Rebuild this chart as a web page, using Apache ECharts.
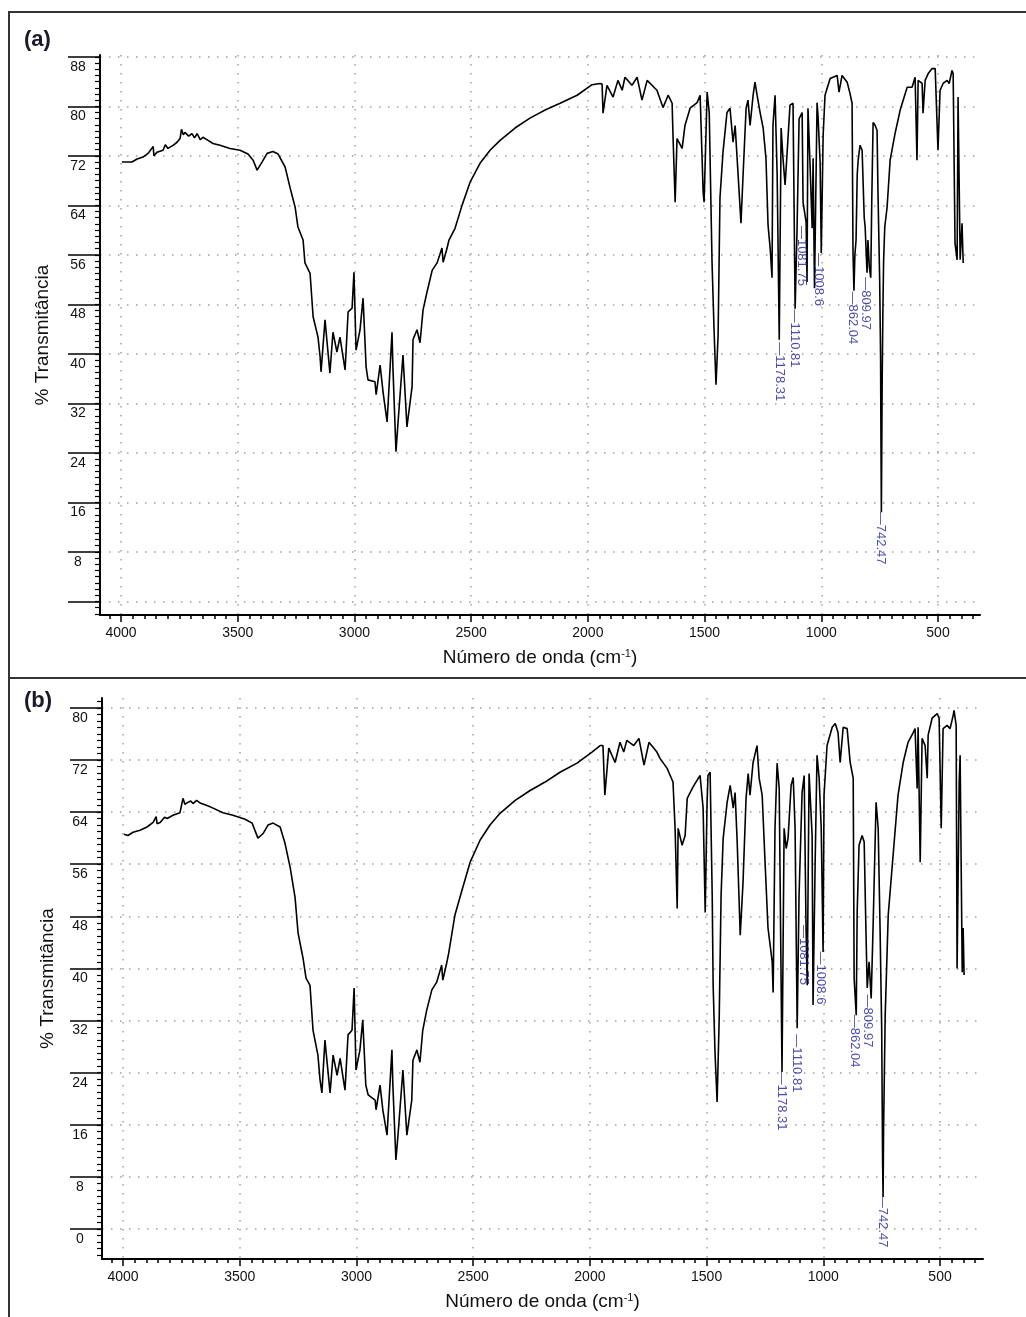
<!DOCTYPE html>
<html>
<head>
<meta charset="utf-8">
<script src="https://cdn.jsdelivr.net/npm/echarts@6/dist/echarts.min.js"></script>
<style>
html,body{margin:0;padding:0;background:#fff;}
#chart{width:1026px;height:1317px;}
</style>
</head>
<body>
<div id="chart"></div>
<script>
// ---------------- DATA ----------------
// Panel (a) spectrum: [wavenumber cm-1, %T]
const SPECTRUM_A = [
[3996,71.0],[3953,71.0],[3931,71.5],[3906,71.8],[3884,72.4],[3862,73.5],[3859,72.0],[3846,72.6],[3820,72.9],[3810,73.8],[3799,73.2],[3777,73.7],[3760,74.2],[3747,74.8],[3741,76.3],[3733,75.4],[3726,75.8],[3710,75.2],[3696,75.6],[3685,74.9],[3674,75.6],[3660,74.6],[3649,75.0],[3627,74.5],[3606,74.0],[3576,73.7],[3533,73.2],[3490,72.9],[3456,72.3],[3434,71.3],[3417,69.7],[3396,71.0],[3374,72.4],[3349,72.7],[3327,72.3],[3297,70.2],[3276,66.9],[3254,63.7],[3242,60.5],[3220,58.4],[3212,54.7],[3190,53.0],[3177,46.0],[3156,42.7],[3147,39.5],[3143,37.1],[3126,45.5],[3105,36.9],[3092,43.5],[3075,40.3],[3062,42.7],[3040,37.4],[3027,46.8],[3010,47.4],[3002,53.2],[2993,40.6],[2976,43.9],[2963,49.0],[2950,37.9],[2942,35.8],[2912,35.5],[2907,33.4],[2890,38.2],[2877,33.7],[2860,29.0],[2839,43.5],[2835,37.7],[2822,24.2],[2813,29.0],[2792,39.8],[2775,28.2],[2753,34.7],[2749,42.3],[2732,43.9],[2719,41.8],[2706,47.1],[2689,50.0],[2667,53.5],[2646,54.7],[2625,57.1],[2620,54.8],[2603,57.1],[2595,58.4],[2569,60.3],[2539,64.0],[2505,67.7],[2462,70.8],[2419,72.9],[2376,74.5],[2312,76.5],[2248,78.1],[2183,79.4],[2119,80.5],[2046,81.8],[1982,83.5],[1948,83.7],[1939,83.6],[1935,78.9],[1918,83.4],[1892,81.5],[1871,84.2],[1853,82.6],[1841,84.7],[1811,83.4],[1789,84.7],[1768,81.0],[1746,84.2],[1704,82.6],[1678,79.8],[1656,81.8],[1639,80.5],[1635,75.0],[1626,64.5],[1618,74.8],[1596,73.2],[1584,76.9],[1562,79.7],[1532,80.6],[1519,81.8],[1506,66.1],[1502,64.5],[1489,82.3],[1480,79.0],[1468,54.8],[1459,43.5],[1451,35.0],[1442,43.0],[1434,65.2],[1421,72.6],[1404,79.0],[1391,79.7],[1378,74.2],[1369,76.9],[1357,69.4],[1344,61.1],[1335,68.9],[1322,79.7],[1314,81.0],[1305,76.9],[1292,81.8],[1284,83.9],[1275,81.8],[1262,79.0],[1249,76.5],[1237,71.6],[1228,60.8],[1219,57.1],[1211,52.3],[1207,76.9],[1198,81.8],[1189,68.9],[1180,42.3],[1172,76.5],[1164,71.6],[1155,67.3],[1147,72.1],[1134,80.2],[1121,80.5],[1112,47.3],[1104,59.7],[1095,78.0],[1082,79.0],[1078,64.5],[1065,61.3],[1061,51.6],[1057,79.7],[1048,70.5],[1039,60.3],[1035,71.6],[1029,50.6],[1018,80.6],[1014,78.5],[1005,71.0],[1000,56.3],[992,75.3],[984,81.8],[962,84.5],[932,85.0],[924,82.3],[911,85.0],[889,83.9],[877,82.1],[868,80.5],[864,56.3],[860,50.2],[856,56.0],[851,58.4],[846,69.0],[842,71.3],[834,73.7],[825,72.9],[816,62.0],[812,60.5],[804,53.1],[800,58.4],[794,54.0],[788,52.3],[784,64.0],[778,77.4],[770,77.0],[761,76.1],[757,66.0],[750,52.4],[746,40.0],[744,24.0],[742.5,14.4],[741,24.0],[739,36.0],[736,47.0],[733,55.0],[728,60.5],[718,63.7],[705,71.3],[684,75.6],[662,79.4],[632,83.1],[611,83.1],[598,84.7],[590,71.3],[585,84.2],[568,83.7],[564,78.9],[555,84.2],[542,85.3],[525,86.1],[512,86.1],[504,85.8],[500,72.9],[491,82.6],[478,83.7],[461,84.2],[452,83.7],[440,85.8],[435,85.3],[427,57.9],[418,55.2],[414,81.5],[405,55.2],[397,61.1],[392,54.7]
];

// Panel (b) spectrum: [wavenumber cm-1, %T]
const SPECTRUM_B = [
[3996,60.6],[3979,60.4],[3957,60.9],[3927,61.2],[3897,61.7],[3871,62.4],[3858,63.3],[3854,62.2],[3841,62.4],[3822,63.2],[3811,63.0],[3786,63.5],[3756,63.9],[3743,66.1],[3735,65.2],[3726,65.4],[3710,65.7],[3700,65.3],[3685,65.8],[3670,65.4],[3655,65.2],[3640,65.0],[3614,64.6],[3572,63.9],[3529,63.5],[3477,62.9],[3447,62.3],[3422,60.0],[3400,60.7],[3379,62.0],[3357,62.3],[3327,61.7],[3306,59.2],[3284,55.5],[3263,50.9],[3250,45.4],[3229,41.6],[3216,38.5],[3199,37.4],[3186,30.5],[3165,26.7],[3156,22.9],[3148,20.9],[3135,29.0],[3113,20.9],[3100,26.7],[3083,23.6],[3070,26.2],[3049,21.3],[3036,29.8],[3019,30.5],[3010,37.0],[3002,24.4],[2985,27.5],[2973,32.1],[2960,22.1],[2950,20.6],[2920,19.8],[2916,18.3],[2899,22.1],[2887,18.3],[2869,14.4],[2848,27.5],[2844,22.1],[2831,10.6],[2822,14.4],[2801,24.4],[2784,14.4],[2763,19.8],[2758,25.9],[2741,27.5],[2728,25.6],[2716,30.5],[2699,33.6],[2677,36.7],[2656,37.9],[2635,40.5],[2630,38.2],[2613,40.9],[2605,42.3],[2578,48.2],[2548,52.0],[2513,56.3],[2470,59.7],[2428,62.0],[2385,63.8],[2320,65.8],[2256,67.3],[2192,68.6],[2128,70.1],[2055,71.5],[1991,73.2],[1956,74.2],[1944,74.2],[1936,66.6],[1919,73.8],[1892,71.6],[1871,74.7],[1855,73.2],[1842,75.0],[1812,74.2],[1790,75.3],[1768,71.2],[1747,74.7],[1713,73.2],[1699,72.2],[1669,70.7],[1656,69.6],[1644,68.6],[1635,61.5],[1626,49.2],[1622,61.5],[1605,58.9],[1592,60.4],[1583,66.1],[1562,67.6],[1549,68.4],[1528,69.6],[1515,64.6],[1506,48.6],[1498,65.5],[1494,69.6],[1485,70.1],[1476,51.2],[1472,37.4],[1464,27.1],[1455,19.5],[1446,32.4],[1438,51.2],[1429,60.0],[1412,65.5],[1399,68.1],[1386,64.6],[1378,67.0],[1369,59.4],[1356,45.1],[1344,53.2],[1331,66.1],[1322,69.9],[1314,66.6],[1301,71.6],[1284,74.2],[1275,69.2],[1262,66.6],[1249,55.8],[1237,46.2],[1219,41.0],[1215,36.3],[1207,61.5],[1198,71.5],[1189,67.6],[1177,24.1],[1168,61.5],[1159,58.4],[1151,60.0],[1138,68.1],[1129,69.3],[1121,61.5],[1112,30.8],[1104,51.2],[1091,67.0],[1082,69.6],[1074,46.2],[1069,37.4],[1061,69.9],[1048,60.4],[1044,34.4],[1035,56.3],[1027,72.7],[1018,69.2],[1009,61.5],[1001,42.5],[997,66.6],[984,74.2],[962,77.0],[949,77.6],[937,76.2],[928,71.6],[915,77.0],[898,76.8],[885,71.6],[872,69.2],[868,38.5],[859,32.8],[855,48.6],[847,58.9],[834,60.4],[825,59.4],[817,45.1],[812,37.0],[804,41.0],[795,35.4],[787,46.2],[774,65.5],[765,61.5],[757,46.2],[750,30.8],[746,10.0],[744,4.9],[742,15.0],[735,32.8],[722,48.2],[701,57.4],[680,66.6],[658,71.6],[637,74.7],[615,76.2],[607,76.8],[598,67.6],[594,77.0],[585,56.3],[577,75.3],[564,74.2],[555,69.2],[551,75.8],[534,78.4],[512,79.1],[504,78.4],[495,61.5],[487,76.8],[470,77.3],[457,76.8],[444,78.8],[440,79.6],[431,77.3],[427,40.0],[418,68.6],[414,72.7],[405,39.4],[401,46.2],[397,39.0]
];

// Annotated peaks
const PEAK_LABELS = ['1178.31','1110.81','1081.75','1008.6','862.04','809.97','742.47'];
const PEAK_WN     = [1178.31, 1110.81, 1081.75, 1008.6, 862.04, 809.97, 742.47];
const PEAK_T_A    = [41.8, 47.1, 60.6, 56.2, 50.0, 52.3, 14.4];
const PEAK_T_B    = [24.1, 29.8, 46.6, 42.5, 32.8, 35.9, 5.2];

// Tick labels
const X_TICKS   = [500,1000,1500,2000,2500,3000,3500,4000];
const Y_TICKS_A = [0,8,16,24,32,40,48,56,64,72,80,88];
const Y_LABELS_A= [8,16,24,32,40,48,56,64,72,80,88];
const Y_TICKS_B = [0,8,16,24,32,40,48,56,64,72,80];
const Y_LABELS_B= [0,8,16,24,32,40,48,56,64,72,80];

// minor tick positions
const X_MINOR = []; for (let v = 350; v <= 4050; v += 50) X_MINOR.push(v);
const Y_MINOR_A = []; for (let v = -2; v <= 88; v += 1) Y_MINOR_A.push(v);
const Y_MINOR_B = []; for (let v = -4; v <= 81; v += 1) Y_MINOR_B.push(v);

// ---------------- STYLE ----------------
const FONT_N = "'Liberation Sans Narrow','Arial Narrow','Liberation Sans',Arial,sans-serif";
const FONT = "'Liberation Sans',Arial,sans-serif";
const DOT = {type:[1.5,7.5], color:'#a0a0a0', width:1.5};
const LABEL_BLUE = '#1c1c9a';
const plain = v => String(v);

function xPair(grid, min, max) {
  return [
    { gridIndex:grid, type:'value', inverse:true, min:min, max:max, position:'bottom',
      axisLine:{show:true, onZero:false, lineStyle:{color:'#000', width:2}},
      axisTick:{show:true, customValues:X_TICKS, length:7, lineStyle:{color:'#000', width:1.5}},
      axisLabel:{customValues:X_TICKS, formatter:plain, margin:11, fontFamily:FONT_N, fontSize:14, color:'#111'},
      splitLine:{show:true, lineStyle:DOT},
      name:'Número de onda (cm{sup|-1})', nameLocation:'middle', nameGap:33,
      nameTextStyle:{fontFamily:FONT, fontSize:19, color:'#111',
        rich:{sup:{fontFamily:FONT, fontSize:11, verticalAlign:'top', color:'#111'}}}
    },
    { gridIndex:grid, type:'value', inverse:true, min:min, max:max, position:'bottom',
      axisLine:{show:false, onZero:false},
      axisTick:{show:true, customValues:X_MINOR, length:4, lineStyle:{color:'#000', width:1.5}},
      axisLabel:{show:false}, splitLine:{show:false}
    }
  ];
}
function yPair(grid, min, max, ticks, labels, minor, gap) {
  return [
    { gridIndex:grid, type:'value', min:min, max:max, position:'left',
      axisLine:{show:true, onZero:false, lineStyle:{color:'#000', width:2}},
      axisTick:{show:true, customValues:ticks, length:32, lineStyle:{color:'#000', width:1.5}},
      axisLabel:{customValues:labels, formatter:plain, align:'center', verticalAlign:'top', margin:22, padding:[3,0,0,0],
        fontFamily:FONT_N, fontSize:14, color:'#111'},
      splitLine:{show:true, lineStyle:DOT},
      name:'% Transmitância', nameLocation:'middle', nameGap:gap,
      nameTextStyle:{fontFamily:FONT, fontSize:19, color:'#111'}
    },
    { gridIndex:grid, type:'value', min:min, max:max, position:'left',
      axisLine:{show:false, onZero:false},
      axisTick:{show:true, customValues:minor, length:5, lineStyle:{color:'#000', width:1.2}},
      axisLabel:{show:false}, splitLine:{show:false}
    }
  ];
}
function peakSeries(xi, yi, tvals) {
  return {
    type:'scatter', xAxisIndex:xi, yAxisIndex:yi, symbolSize:1, silent:true, z:5,
    itemStyle:{color:'rgba(0,0,0,0)'},
    data: PEAK_LABELS.map((t,i)=>({name:t, value:[PEAK_WN[i], tvals[i]]})),
    label:{show:true, formatter:p=>'\u2014'+p.name, position:[0,0], rotate:-90,
      align:'left', verticalAlign:'middle', fontFamily:FONT_N, fontSize:13, color:LABEL_BLUE}
  };
}

const chart = echarts.init(document.getElementById('chart'), null, {renderer:'canvas'});
chart.setOption({
  backgroundColor:'#fff',
  animation:false,
  grid:[
    {left:100, top:55, width:880, height:560},
    {left:102, top:698, width:881, height:561}
  ],
  xAxis: xPair(0, 320, 4090).concat(xPair(1, 316, 4090)),
  yAxis: yPair(0, -2.2, 88.3, Y_TICKS_A, Y_LABELS_A, Y_MINOR_A, 48)
          .concat(yPair(1, -4.6, 81.5, Y_TICKS_B, Y_LABELS_B, Y_MINOR_B, 45)),
  series:[
    {type:'line', xAxisIndex:0, yAxisIndex:0, data:SPECTRUM_A, showSymbol:false, symbol:'none',
     lineStyle:{color:'#000', width:1.6}},
    peakSeries(0, 0, PEAK_T_A),
    {type:'line', xAxisIndex:2, yAxisIndex:2, data:SPECTRUM_B, showSymbol:false, symbol:'none',
     lineStyle:{color:'#000', width:1.6}},
    peakSeries(2, 2, PEAK_T_B)
  ],
  graphic:[
    {type:'rect', shape:{x:9, y:12, width:1030, height:1320}, style:{fill:'none', stroke:'#333', lineWidth:2}, silent:true},
    {type:'line', shape:{x1:9, y1:678, x2:1030, y2:678}, style:{stroke:'#333', lineWidth:2}, silent:true},
    {type:'text', left:24, top:29, style:{text:'(a)', font:"bold 22px 'Liberation Sans', Arial, sans-serif", fill:'#1a1a2a'}},
    {type:'text', left:24, top:690, style:{text:'(b)', font:"bold 22px 'Liberation Sans', Arial, sans-serif", fill:'#1a1a2a'}}
  ]
});
</script>
</body>
</html>
